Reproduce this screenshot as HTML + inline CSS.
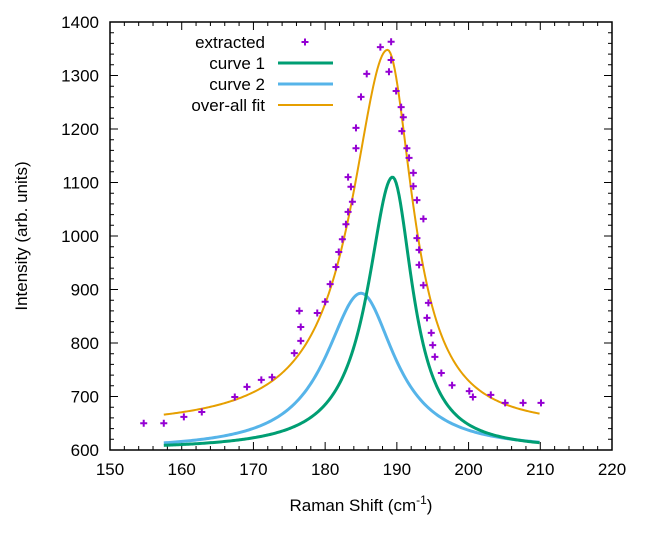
<!DOCTYPE html>
<html><head><meta charset="utf-8"><style>
html,body{margin:0;padding:0;background:#fff;}
svg{display:block;font-family:"Liberation Sans",sans-serif;}
</style></head><body>
<svg width="647" height="540" viewBox="0 0 647 540" xmlns="http://www.w3.org/2000/svg">
<g id="axes"></g>
<g id="series"></g>
<rect x="110" y="22" width="502" height="428" fill="none" stroke="#000" stroke-width="1.5"/>
<text transform="translate(27,236) rotate(-90)" text-anchor="middle" font-size="17">Intensity (arb. units)</text>
<text x="361" y="511" text-anchor="middle" font-size="17">Raman Shift (cm<tspan dy="-7" font-size="12">-1</tspan><tspan dy="7">)</tspan></text>
<g id="legend"></g>
</svg>
<script>
const xTicks=[150,160,170,180,190,200,210,220];
const yTicks=[600,700,800,900,1000,1100,1200,1300,1400];
const extX=[154.7,157.5,160.3,162.8,167.4,169.1,171.1,172.6,175.7,176.6,176.6,176.4,178.9,180.0,180.7,181.5,181.9,182.4,182.9,183.2,183.8,183.6,183.2,184.3,184.3,185.0,185.8,187.7,189.2,189.2,188.9,189.9,190.6,190.9,190.7,191.4,191.7,192.3,192.3,192.8,193.7,192.8,193.1,193.1,193.7,194.4,194.2,194.8,195.0,195.3,196.2,197.7,200.1,200.6,203.1,205.1,207.6,210.1];
const extY=[650,650,662,671,699,718,731,736,781,804,830,860,856,877,910,942,970,994,1022,1045,1064,1092,1110,1164,1202,1260,1303,1353,1363,1329,1307,1271,1241,1222,1196,1164,1146,1118,1093,1067,1032,996,974,946,908,875,847,819,796,774,744,721,710,699,703,688,688,688];
// fitted peak parameters: [baseline, amplitude, center, left half-width, right half-width]
const curve1Params=[600,510,189.4,4.2,3.4];
const curve2Params=[600,293,185.0,6.0,5.7];
const fitParams=[640,708,188.7,6.1,4.3];
const fitRange=[157.5,210];
const X=v=>110+(v-150)*502/70;
const Y=v=>450-(v-600)*428/800;
const NS="http://www.w3.org/2000/svg";
function mk(tag,attrs,parent){const e=document.createElementNS(NS,tag);for(const k in attrs)e.setAttribute(k,attrs[k]);parent.appendChild(e);return e;}
const axes=document.getElementById('axes');
for(let v=150;v<=220;v+=2){const major=(v%10===0);const L=major?8:4;const x=X(v);
 const t=mk('path',{d:`M${x},450v${-L}M${x},22v${L}`,stroke:'#000','stroke-width':1},axes);
 
 }
for(let v=600;v<=1400;v+=20){const major=(v%100===0);const L=major?8:4;const y=Y(v);
 const t=mk('path',{d:`M110,${y}h${L}M612,${y}h${-L}`,stroke:'#000','stroke-width':1},axes);
 
 }
xTicks.forEach(v=>{const t=mk('text',{x:X(v),y:475,'text-anchor':'middle','font-size':17},axes);t.textContent=v;
 
 });
yTicks.forEach(v=>{const t=mk('text',{x:99,y:Y(v)+6,'text-anchor':'end','font-size':17},axes);t.textContent=v;
 
 });
function lor(p,x){const g=x<p[2]?p[3]:p[4];const u=(x-p[2])/g;return p[0]+p[1]/(1+u*u);}
function curvePath(p){let d='';for(let x=fitRange[0];x<=fitRange[1]+1e-9;x+=0.2){d+=(d?'L':'M')+X(x).toFixed(2)+','+Y(lor(p,x)).toFixed(2);}return d;}
const ser=document.getElementById('series');
const s2=mk('path',{d:curvePath(curve2Params),fill:'none',stroke:'#56b4e9','stroke-width':3,'stroke-linejoin':'round'},ser);


const s1=mk('path',{d:curvePath(curve1Params),fill:'none',stroke:'#009e73','stroke-width':3,'stroke-linejoin':'round'},ser);


const sf=mk('path',{d:curvePath(fitParams),fill:'none',stroke:'#e69f00','stroke-width':2,'stroke-linejoin':'round'},ser);


function plus(x,y,parent){return mk('path',{d:`M${x-3.5},${y}h7M${x},${y-3.5}v7`,stroke:'#9400d3','stroke-width':2},parent);}
extX.forEach((v,i)=>{const p=plus(X(v),Y(extY[i]),ser);
 
 });
const lg=document.getElementById('legend');
const items=[['extracted',null,0],['curve 1','#009e73',3],['curve 2','#56b4e9',3],['over-all fit','#e69f00',2]];
items.forEach((it,i)=>{const y=42+i*21;
 const g=mk('g',{},lg);
 
 
 const t=mk('text',{x:265,y:y+6,'text-anchor':'end','font-size':17},g);t.textContent=it[0];
 if(it[1]){mk('path',{d:`M278,${y}H333`,stroke:it[1],'stroke-width':it[2]},g);}else{plus(305,y,g);}
});
</script>
</body></html>
